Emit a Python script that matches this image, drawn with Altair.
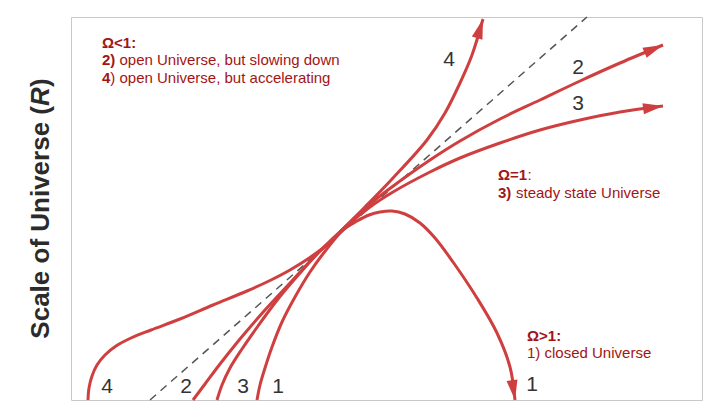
import math
import altair as alt
import pandas as pd

# ---- plot extent (time units / scale units) ----
W, H = 631, 383

# ---- curves ----
c1_t = [186, 189, 194, 201, 211, 224, 239, 255, 272, 286, 298, 309, 321, 334, 349, 364, 382, 406, 426, 439, 444]
c1_r = [0, 15, 32, 53, 78, 103, 128, 150, 170, 179, 185, 188, 189, 186, 177, 162, 138, 102, 67, 33, 0]
c2_t = [122, 134, 149, 169, 194, 219, 244, 272, 299, 329, 359, 389, 429, 469, 509, 549, 592]
c2_r = [0, 16, 36, 61, 90, 117, 144, 171, 196, 219, 240, 259, 281, 300, 319, 337, 355]
c3_t = [146, 151, 159, 171, 187, 207, 229, 249, 272, 299, 322, 359, 389, 429, 469, 509, 549, 592]
c3_r = [0, 15, 32, 51, 74, 101, 127, 149, 171, 193, 208, 228, 242, 257, 270, 280, 288, 294]
c4_t = [17, 18, 21, 26, 34, 45, 60, 80, 109, 142, 176, 199, 219, 239, 257, 272, 294, 322, 356, 374, 389, 401, 412]
c4_r = [0, 12, 24, 35, 45, 54, 62, 70, 81, 95, 109, 119.5, 130, 142.5, 156, 171, 193, 222, 260, 287, 317, 345, 381]

dash_t = [79, 516]
dash_r = [0, 383]

tick_t = [17, 79, 122, 146, 186, 274]

num_text = ["4", "2", "3", "4", "2", "3", "1", "1"]
num_t = [378, 507, 507, 36, 115, 172, 207, 461]
num_r = [340, 332, 296, 13, 13, 13, 13, 15]

ann_text = ["Ω<1:", "2)", "open Universe, but slowing down", "4", ") open Universe, but accelerating",
            "Ω=1", ":", "3)", "steady state Universe",
            "Ω>1:", "1) closed Universe"]
ann_t = [31, 31, 48.5, 31, 39.3, 427, 456.5, 427, 445, 456, 456]
ann_r = [357.5, 340, 340, 322, 322, 225, 225, 207, 207, 64, 47.5]
ann_bold = [True, True, False, True, False, True, False, True, False, True, False]

title_parts = ["Scale of Universe (", "R", ")"]
title_t = [-30, -30, -30]
title_r = [294, 294, 313]
title_align = ["right", "left", "left"]
title_style = ["normal", "italic", "normal"]

LINE = "#cf3f3f"
TXT = "#a31515"
DARK = "#555555"

# ---- tables ----
rows = []
for name, ts, rs in [("1", c1_t, c1_r), ("2", c2_t, c2_r), ("3", c3_t, c3_r), ("4", c4_t, c4_r)]:
    for i, (t, r) in enumerate(zip(ts, rs)):
        rows.append({"curve": name, "i": i, "t": t, "r": r})
curves = pd.DataFrame(rows)

heads = []
for name, ts, rs in [("1", c1_t, c1_r), ("2", c2_t, c2_r), ("3", c3_t, c3_r), ("4", c4_t, c4_r)]:
    dx = ts[-1] - ts[-2]
    dy = rs[-1] - rs[-2]
    ang = math.degrees(math.atan2(dx, dy)) % 360
    heads.append({"curve": name, "t": ts[-1], "r": rs[-1], "ang": ang})
heads = pd.DataFrame(heads)

dash = pd.DataFrame({"t": dash_t, "r": dash_r})
nums = pd.DataFrame({"label": num_text, "t": num_t, "r": num_r})
ann = pd.DataFrame({"label": ann_text, "t": ann_t, "r": ann_r, "bold": ann_bold})

xs = alt.Scale(domain=[0, W], nice=False, zero=False)
ys = alt.Scale(domain=[0, H], nice=False, zero=False)


def X(axis=None):
    return alt.X("t:Q", scale=xs, axis=axis)


def Y(axis=None):
    return alt.Y("r:Q", scale=ys, axis=axis)


x_axis = alt.Axis(values=tick_t, labels=False, title=None, grid=False,
                  domainColor=DARK, domainWidth=2, tickColor=DARK, tickWidth=1.5, tickSize=6)
y_axis = alt.Axis(labels=False, ticks=False, title=None, grid=False,
                  domainColor=DARK, domainWidth=2)

dashed = alt.Chart(dash).mark_line(color=DARK, strokeWidth=1.5, strokeDash=[8, 6]).encode(
    x=X(x_axis), y=Y(y_axis))

lines = alt.Chart(curves).mark_line(color=LINE, strokeWidth=3, strokeCap="butt",
                                     interpolate="catmull-rom").encode(
    x=X(), y=Y(), detail="curve:N", order="i:Q")

arrows = alt.Chart(heads).mark_point(shape="M0,0L0.55,2L-0.55,2Z", filled=True, size=400,
                                     color=LINE, opacity=1).encode(
    x=X(), y=Y(), angle=alt.Angle("ang:Q", scale=None))

numbers = alt.Chart(nums).mark_text(font="Liberation Sans", fontSize=21, color="#333333",
                                    align="center", baseline="middle").encode(
    x=X(), y=Y(), text="label:N")

ann_bold_layer = alt.Chart(ann[ann["bold"]]).mark_text(
    font="Liberation Sans", fontSize=15, fontWeight="bold", color=TXT,
    align="left", baseline="middle").encode(x=X(), y=Y(), text="label:N")
ann_norm_layer = alt.Chart(ann[~ann["bold"]]).mark_text(
    font="Liberation Sans", fontSize=15, color=TXT,
    align="left", baseline="middle").encode(x=X(), y=Y(), text="label:N")

title_layers = []
for txt, t, r, al, st in zip(title_parts, title_t, title_r, title_align, title_style):
    d = pd.DataFrame({"label": [txt], "t": [t], "r": [r]})
    title_layers.append(
        alt.Chart(d).mark_text(font="Liberation Sans", fontSize=26, fontWeight="bold",
                               fontStyle=st, angle=270, align=al, baseline="middle",
                               color="#2b2b2b").encode(x=X(), y=Y(), text="label:N"))

chart = alt.layer(dashed, lines, arrows, numbers, ann_bold_layer, ann_norm_layer,
                  *title_layers).properties(
    width=W, height=H,
    padding={"left": 71, "top": 17, "right": 25, "bottom": 12},
    autosize=alt.AutoSizeParams(type="none"),
    background="white",
).configure_view(stroke="#c8c8c8", strokeWidth=1)

chart.save("out.html", embed_options={"renderer": "svg", "actions": False})
